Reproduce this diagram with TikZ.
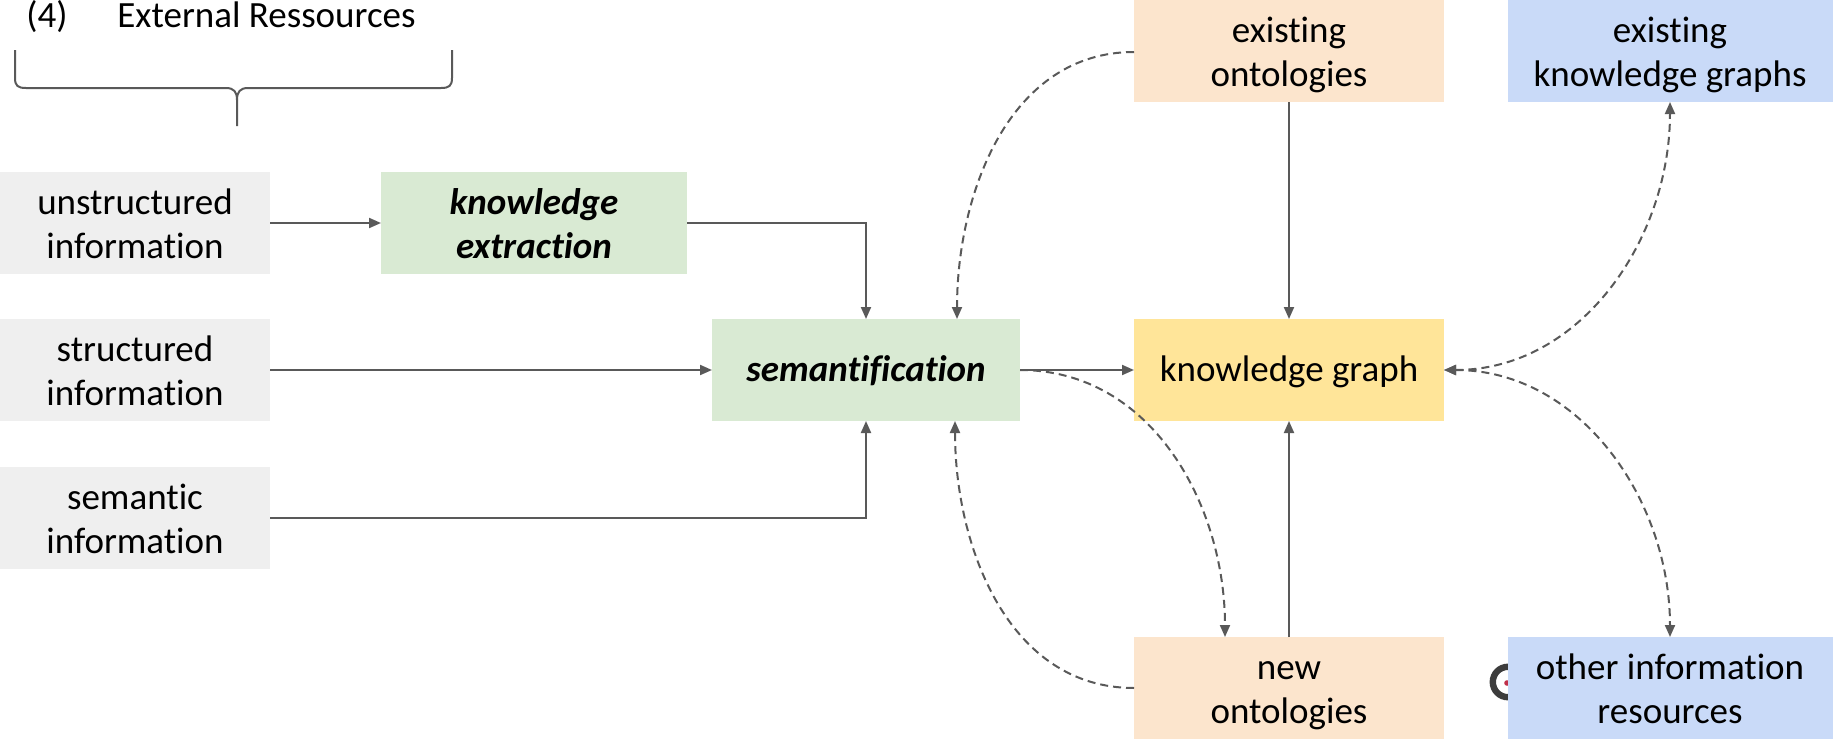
\documentclass[tikz,border=0pt]{standalone}
\usepackage{fontspec}
\setmainfont{Carlito}[RawFeature={-liga;-dlig;-clig}]
\usetikzlibrary{arrows.meta}
\definecolor{boxgray}{HTML}{EFEFEF}
\definecolor{boxgreen}{HTML}{D9EAD3}
\definecolor{boxpeach}{HTML}{FCE5CD}
\definecolor{boxyellow}{HTML}{FFE599}
\definecolor{boxblue}{HTML}{C9DAF8}
\definecolor{linegray}{HTML}{595959}
\definecolor{logogray}{HTML}{3C3C3C}
\definecolor{logored}{HTML}{C0304A}
\tikzset{
  txt/.style={font=\fontsize{18.5}{22}\selectfont},
  box/.style={rectangle, inner sep=0pt, outer sep=0pt, align=center, txt,
    text height=15.4pt, text depth=4pt},
  twolines/.style={text height=39.2pt},
  srcbox/.style={box, twolines, fill=boxgray, minimum width=135pt, minimum height=51pt},
  procbox/.style={box, fill=boxgreen, minimum height=51pt,
    font=\fontsize{18.5}{22}\selectfont\bfseries\itshape},
  ontobox/.style={box, twolines, fill=boxpeach, minimum width=155pt, minimum height=51pt},
  kgbox/.style={box, fill=boxyellow, minimum width=155pt, minimum height=51pt},
  extbox/.style={box, twolines, fill=boxblue, minimum width=162.5pt, minimum height=51pt},
  tip/.tip={Triangle[length=6pt,width=5pt]},
  flow/.style={draw=linegray, line width=1pt, -tip},
  link/.style={flow, dash pattern=on 4pt off 2.5pt},
  twoway/.style={link, tip-tip},
}
\begin{document}
\begin{tikzpicture}[x=0.5pt, y=-0.5pt]
\useasboundingbox (0,0) rectangle (1833,739);

% heading and brace
\node[txt, anchor=base] (num) at (47,27) {(4)};
\node[txt, anchor=base west, inner sep=0pt] (head) at (117,27) {External Ressources};
\draw[linegray, line width=1pt, line join=round]
  (15,50) -- (15,78) .. controls (15,86) and (18,88) .. (26,88) -- (226,88)
  .. controls (234,88) and (237,92) .. (237,100) -- (237,126);
\draw[linegray, line width=1pt, line join=round]
  (452,50) -- (452,78) .. controls (452,86) and (449,88) .. (441,88) -- (248,88)
  .. controls (240,88) and (237,92) .. (237,100);

% partly hidden logo behind the blue box
\draw[logogray, line width=3.2pt] (1508,682) circle[radius=7.6pt];
\fill[logored] (1507,683) circle[radius=1.4pt];

% sources
\node[srcbox] (unstr) at (135,223) {unstructured\\information};
\node[srcbox] (struc) at (135,370) {structured\\information};
\node[srcbox] (seman) at (135,518) {semantic\\information};

% processing
\node[procbox, twolines, minimum width=153pt] (extr) at (534,223) {knowledge\\extraction};
\node[procbox, minimum width=154pt] (semf) at (866,370) {semantification};

% knowledge graph and ontologies
\node[ontobox] (exon) at (1289,51) {existing\\ontologies};
\node[kgbox] (kg) at (1289,370) {knowledge graph};
\node[ontobox] (newon) at (1289,688) {new\\ontologies};

% external resources
\node[extbox] (exkg) at (1670,51) {existing\\knowledge graphs};
\node[extbox] (other) at (1670,688) {other information\\resources};

% solid flows
\draw[flow] (unstr) -- (extr);
\draw[flow] (extr.east) -| (semf.north);
\draw[flow] (struc) -- (semf);
\draw[flow] (seman.east) -| (semf.south);
\draw[flow] (semf) -- (kg);
\draw[flow] (exon) -- (kg);
\draw[flow] (newon) -- (kg);

% dashed links
\draw[link] ([yshift=-0.5pt]exon.west) to[out=180, in=90] ([xshift=45.5pt]semf.north);
\draw[link] (newon.west) to[out=180, in=-90] ([xshift=44.5pt]semf.south);
\draw[link] (semf.east) to[out=0, in=90] ([xshift=-32pt]newon.north);
\draw[twoway] (kg.east) to[out=0, in=-90] (exkg.south);
\draw[twoway] (kg.east) to[out=0, in=90] (other.north);
\end{tikzpicture}
\end{document}
